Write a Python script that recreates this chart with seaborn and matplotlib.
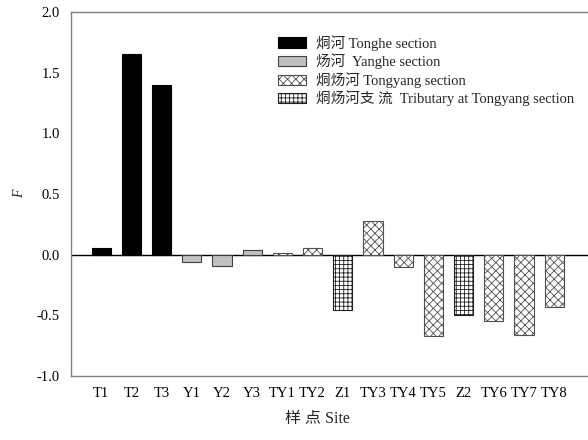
import matplotlib
matplotlib.use("Agg")
import pandas as pd
import matplotlib.pyplot as plt
from matplotlib.patches import Patch
import seaborn as sns

sns.set_style("white")
plt.rcParams['font.family'] = ['Liberation Serif', 'Noto Sans CJK SC']
plt.rcParams['hatch.linewidth'] = 0.6

## data ##
sites = ["T1", "T2", "T3", "Y1", "Y2", "Y3", "TY1", "TY2", "Z1",
         "TY3", "TY4", "TY5", "Z2", "TY6", "TY7", "TY8"]
f_values = [0.055, 1.65, 1.40, -0.06, -0.09, 0.037, 0.01, 0.053, -0.46,
            0.28, -0.10, -0.67, -0.50, -0.55, -0.66, -0.43]
groups = ["T", "T", "T", "Y", "Y", "Y", "TY", "TY", "Z",
          "TY", "TY", "TY", "Z", "TY", "TY", "TY"]
group_order = ["T", "Y", "TY", "Z"]
group_labels = ["烔河 Tonghe section", "炀河  Yanghe section",
                "烔炀河 Tongyang section", "烔炀河支 流  Tributary at Tongyang section"]

# styles per group
fills = {"T": "black", "Y": "#c0c0c0", "TY": "white", "Z": "white"}
hatches = {"T": None, "Y": None, "TY": "xxxx", "Z": "++++"}
edges = {"T": "black", "Y": "#404040", "TY": "#505050", "Z": "#202020"}

df = pd.DataFrame({"Site": sites, "F": f_values, "Group": groups})

fig = plt.figure(figsize=(5.88, 4.4), dpi=100)
ax = fig.add_axes([71/588, 64/440, 1 - 71/588, 364/440])

sns.barplot(data=df, x="Site", y="F", hue="Group", hue_order=group_order,
            palette=fills, dodge=False, width=0.64, legend=False, ax=ax,
            edgecolor="black", linewidth=0.8)

# hatch and edge each bar by its group
for cont, g in zip(ax.containers, group_order):
    for p in cont.patches:
        p.set_edgecolor(edges[g])
        if hatches[g]:
            p.set_hatch(hatches[g])

ax.axhline(0, color="black", lw=1.0, zorder=0.5)

ax.set_xlim(-1.0, 16.12)
ax.set_ylim(-1.0, 2.0)
ax.set_yticks([-1.0, -0.5, 0.0, 0.5, 1.0, 1.5, 2.0])
ax.set_yticklabels(["%.1f" % v for v in [-1.0, -0.5, 0.0, 0.5, 1.0, 1.5, 2.0]])

for s in ["left", "bottom", "top"]:
    ax.spines[s].set_color("#808080")
    ax.spines[s].set_linewidth(1.0)
ax.spines["right"].set_visible(False)
ax.tick_params(axis="both", direction="out", length=5, width=1.0,
               color="#808080", labelsize=10.5, labelcolor="black")
ax.tick_params(axis="x", pad=3)
ax.tick_params(axis="y", pad=3)

ax.set_ylabel("F", fontsize=10, style="italic", labelpad=8)
ax.set_xlabel("")
fig.text(317/588, 1 - 419/440, "样 点 Site", ha="center", va="center", fontsize=11.5)

handles = [Patch(facecolor=fills[g], edgecolor=edges[g], hatch=hatches[g], linewidth=0.8)
           for g in group_order]
fig.legend(handles, group_labels, loc="upper left", bbox_to_anchor=(272/588, 1 - 29/440),
           frameon=False, fontsize=10.5, handlelength=1.9, handleheight=0.7,
           handletextpad=0.7, labelspacing=0.2, borderaxespad=0)

plt.savefig("out.png", dpi=100)
